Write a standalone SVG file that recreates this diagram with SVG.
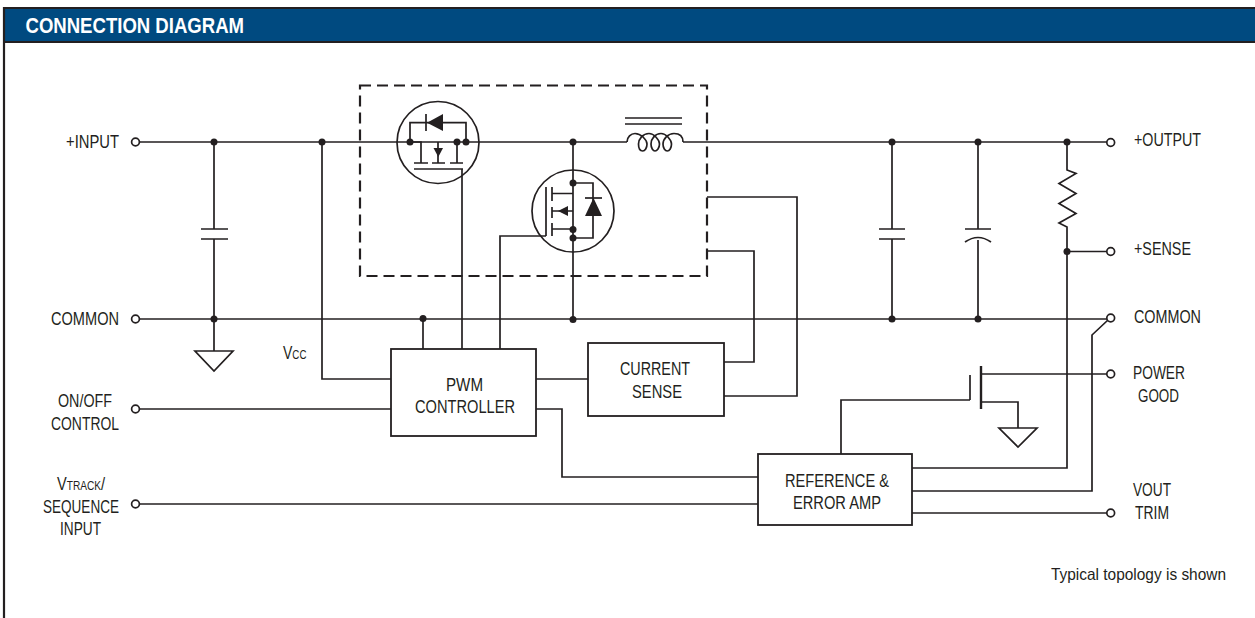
<svg xmlns="http://www.w3.org/2000/svg" width="1255" height="618" viewBox="0 0 1255 618">
<defs>
<style>
.w{fill:none;stroke:#231f20;stroke-width:1.7}
.b{fill:#fff;stroke:#231f20;stroke-width:1.8}
.d{fill:#231f20;stroke:none}
.o{fill:#fff;stroke:#231f20;stroke-width:1.7}
.f{fill:#231f20;stroke:none}
text{font-family:"Liberation Sans Narrow","Liberation Sans",Arial,sans-serif;font-size:18px;fill:#231f20}
</style>
<circle id="dot" r="3.500" class="d"/>
<circle id="term" r="3.900" class="o"/>
</defs>
<rect x="0" y="0" width="1255" height="618" fill="#fff"/>
<g id="frame">
<rect x="4" y="8" width="1260" height="34" fill="#004a80"/>
<path d="M1255 8H4V618" fill="none" stroke="#231f20" stroke-width="2.200"/>
<path d="M4 42H1255" fill="none" stroke="#231f20" stroke-width="2.200"/>
<text x="25.500" y="33" textLength="218.500" lengthAdjust="spacingAndGlyphs" style="font-size:22px;font-weight:700;fill:#fff">CONNECTION DIAGRAM</text>
</g>
<g id="connectors">
<path class="w" d="M139 142H627M683 142H1107"/>
<path class="w" d="M139 319H1107"/>
<path class="w" d="M139 409H391"/>
<path class="w" d="M139 504H758"/>
<path class="w" d="M214 142V229M214 239V351"/>
<path class="w" d="M322 142V379H391"/>
<path class="w" d="M423 319V349"/>
<path class="w" d="M462 169V349"/>
<path class="w" d="M500 349V236H546"/>
<path class="w" d="M573 142V319"/>
<path class="w" d="M536 379H588"/>
<path class="w" d="M536 409H562V477H758"/>
<path class="w" d="M724 362H754V251H707"/>
<path class="w" d="M724 396H797V197H707"/>
<path class="w" d="M892 142V229M892 239V319"/>
<path class="w" d="M978 142V229M978 240V319"/>
<path class="w" d="M1067 142V170L1076 173.500L1059 183.500L1076 193.500L1059 203.500L1076 213.500L1059 223L1067 227V468H912"/>
<path class="w" d="M1067 251.500H1107"/>
<path class="w" d="M1108 320L1092 335V491H912"/>
<path class="w" d="M912 513H1107"/>
<path class="w" d="M841 454V400H970"/>
<path class="w" d="M981 374H1107"/>
<path class="w" d="M981 402H1018V428"/>
</g>
<g id="power-module">
<rect x="360" y="85.500" width="347" height="190.500" fill="none" stroke="#231f20" stroke-width="2.200" stroke-dasharray="11 6"/>
</g>
<g id="high-side-fet">
<circle class="w" cx="438" cy="142.500" r="41"/>
<path class="w" d="M410 142V122.700H466V142"/>
<path class="f" d="M427 122.700L443 114V131Z"/>
<path class="w" d="M426 114V131"/>
<path class="w" d="M410 142H421V163M414 163H428M438 142V163M432 163H445M457 142V163M450 163H463M414 169H463"/>
<path class="f" d="M433.500 148H443L438.300 157Z"/>
<use href="#dot" x="410" y="142"/><use href="#dot" x="457" y="142"/><use href="#dot" x="466" y="142"/>
</g>
<g id="low-side-fet">
<circle class="w" cx="573" cy="211" r="41"/>
<path class="w" d="M546 187V236M552 187V201M552 207V218M552 223V236"/>
<path class="w" d="M552 193.500H573M573 183H593V238H573M552 229H573M552 211H573"/>
<path class="w" d="M585 198H602"/>
<path class="f" d="M593.500 198L602 216H585Z"/>
<path class="f" d="M558 211L568 206V216Z"/>
<use href="#dot" x="573" y="183"/><use href="#dot" x="573" y="229.500"/><use href="#dot" x="573" y="238"/>
</g>
<g id="inductor">
<path class="w" d="M625 118H682M625 124H682"/>
<path class="w" d="M627 142C627 137 631 133.500 635 133.500C641 133.500 647 140 647 144C647 148 645 151 642.700 151C640 151 638.500 148 638.500 144C638.500 139 643 133.500 649 133.500C654 133.500 659.500 140 659.500 144C659.500 148 657 151 655 151C653 151 651 148 651 144C651 139 655 133.500 661 133.500C666 133.500 671.500 140 671.500 144C671.500 148 669.500 151 667.300 151C665 151 663 148 663 144C663 139 668 133.500 674 133.500C680 133.500 683 137 683 142"/>
</g>
<g id="input-cap">
<path class="w" d="M201 229H228M201 239H228"/>
<use href="#dot" x="214" y="142"/><use href="#dot" x="214" y="319"/>
</g>
<g id="ground-1"><path class="w" d="M195 351H233L214 371Z"/></g>
<g id="output-cap-1"><path class="w" d="M879 229H905M879 239H905"/><use href="#dot" x="892" y="142"/><use href="#dot" x="892" y="319"/></g>
<g id="output-cap-2"><path class="w" d="M965 229H991M965 242Q978 233 991 242"/><use href="#dot" x="978" y="142"/><use href="#dot" x="978" y="319"/></g>
<g id="junctions">
<use href="#dot" x="322" y="142"/><use href="#dot" x="423" y="318.500"/><use href="#dot" x="573" y="142"/><use href="#dot" x="573" y="319.500"/><use href="#dot" x="1067" y="142"/><use href="#dot" x="1067" y="251.500"/>
</g>
<g id="pg-fet">
<path class="w" d="M970 375V400"/>
<path class="w" style="stroke-width:2.400" d="M981 366V409"/>
</g>
<g id="ground-2"><path class="w" d="M999 428H1037L1018 447Z"/></g>
<g id="pwm-controller">
<rect class="b" x="391" y="349" width="145" height="87"/>
<text x="446" y="391" textLength="37" lengthAdjust="spacingAndGlyphs">PWM</text>
<text x="415" y="413" textLength="100" lengthAdjust="spacingAndGlyphs">CONTROLLER</text>
</g>
<g id="current-sense">
<rect class="b" x="588" y="343" width="136" height="73"/>
<text x="620" y="375" textLength="70" lengthAdjust="spacingAndGlyphs">CURRENT</text>
<text x="632" y="398" textLength="50" lengthAdjust="spacingAndGlyphs">SENSE</text>
</g>
<g id="reference-amp">
<rect class="b" x="758" y="454" width="154" height="71"/>
<text x="785" y="487" textLength="104" lengthAdjust="spacingAndGlyphs">REFERENCE &amp;</text>
<text x="793" y="509" textLength="88" lengthAdjust="spacingAndGlyphs">ERROR AMP</text>
</g>
<g id="terminals">
<use href="#term" x="135.500" y="142"/><use href="#term" x="135.500" y="319"/><use href="#term" x="135.500" y="409"/><use href="#term" x="135.500" y="504"/>
<use href="#term" x="1110.700" y="142.500"/><use href="#term" x="1110.700" y="251.500"/><use href="#term" x="1110.700" y="318"/><use href="#term" x="1110.700" y="374"/><use href="#term" x="1110.700" y="513"/>
</g>
<g id="labels">
<text x="66" y="148" textLength="53" lengthAdjust="spacingAndGlyphs">+INPUT</text>
<text x="51" y="325" textLength="68" lengthAdjust="spacingAndGlyphs">COMMON</text>
<text x="58" y="407" textLength="54" lengthAdjust="spacingAndGlyphs">ON/OFF</text>
<text x="51" y="430" textLength="68" lengthAdjust="spacingAndGlyphs">CONTROL</text>
<text transform="translate(57 490) scale(.81 1)">V<tspan style="font-size:12.500px">TRACK</tspan>/</text>
<text x="43" y="513" textLength="76" lengthAdjust="spacingAndGlyphs">SEQUENCE</text>
<text x="60" y="535" textLength="41" lengthAdjust="spacingAndGlyphs">INPUT</text>
<text transform="translate(283 359) scale(.78 1)">V<tspan style="font-size:12.500px">CC</tspan></text>
<text x="1134" y="146" textLength="67" lengthAdjust="spacingAndGlyphs">+OUTPUT</text>
<text x="1134" y="255" textLength="57" lengthAdjust="spacingAndGlyphs">+SENSE</text>
<text x="1134" y="323" textLength="67" lengthAdjust="spacingAndGlyphs">COMMON</text>
<text x="1133" y="379" textLength="52" lengthAdjust="spacingAndGlyphs">POWER</text>
<text x="1138" y="402" textLength="41" lengthAdjust="spacingAndGlyphs">GOOD</text>
<text x="1133" y="496" textLength="38" lengthAdjust="spacingAndGlyphs">VOUT</text>
<text x="1135" y="519" textLength="34" lengthAdjust="spacingAndGlyphs">TRIM</text>
<text x="1051" y="580" textLength="175" lengthAdjust="spacingAndGlyphs" style="font-size:16.500px">Typical topology is shown</text>
</g>
</svg>
